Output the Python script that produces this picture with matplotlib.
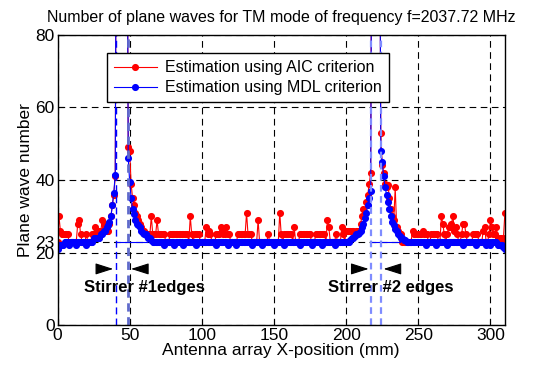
import numpy as np
import matplotlib
matplotlib.use('Agg')
import matplotlib.pyplot as plt

plt.rcParams['font.family'] = ['Liberation Sans', 'DejaVu Sans']

# antenna positions (mm), 1 mm step
x_pos = np.arange(0, 311)

# number of plane waves, AIC criterion (values > 80 are off the top of the plot)
aic = [
    23, 30, 26, 25, 25, 25, 25, 25, 23, 23,
    23, 23, 23, 23, 28, 29, 25, 23, 23, 23,
    25, 23, 23, 23, 25, 25, 27, 25, 25, 26,
    26, 29, 28, 27, 26, 26, 28, 30, 33, 36,
    41, 150, 150, 150, 150, 150, 150, 150, 150, 49,
    48, 39, 35, 33, 31, 30, 29, 28, 27, 26,
    26, 25, 25, 25, 25, 30, 25, 25, 25, 29,
    25, 25, 25, 25, 25, 23, 23, 23, 25, 25,
    25, 25, 25, 25, 25, 25, 25, 25, 25, 25,
    25, 23, 30, 25, 23, 25, 25, 25, 25, 23,
    23, 23, 23, 27, 25, 26, 25, 23, 23, 23,
    25, 25, 25, 27, 26, 25, 25, 27, 25, 25,
    23, 23, 23, 23, 23, 25, 25, 25, 25, 25,
    25, 31, 25, 25, 25, 23, 23, 23, 23, 29,
    23, 23, 23, 23, 23, 23, 25, 23, 23, 23,
    23, 23, 23, 23, 31, 25, 23, 25, 25, 25,
    25, 25, 25, 23, 27, 23, 23, 23, 25, 25,
    25, 25, 25, 25, 25, 25, 23, 23, 23, 25,
    25, 25, 25, 25, 25, 25, 23, 29, 27, 23,
    23, 23, 23, 25, 23, 23, 23, 27, 25, 23,
    26, 26, 26, 26, 26, 26, 25, 26, 26, 26,
    28, 30, 32, 31, 34, 36, 39, 42, 150, 150,
    150, 150, 150, 150, 53, 44, 42, 39, 38, 38.5,
    35, 32, 30, 29, 38, 27, 26, 25, 25, 23,
    23, 23, 23, 23, 23, 23, 26, 25, 25, 25,
    25, 25, 25, 26, 25, 25, 25, 23, 23, 25,
    25, 25, 25, 25, 23, 23, 30, 28, 25, 23,
    25, 27, 27, 28, 30, 26, 27, 25, 23, 23,
    25, 28, 28, 25, 23, 23, 23, 23, 25, 25,
    25, 25, 23, 23, 23, 26, 27, 23, 23, 25,
    29, 27, 25, 25, 27, 24, 24, 24, 23, 24,
    31,
]

# number of plane waves, MDL criterion
mdl = [
    21, 22, 22, 22, 22, 23, 23, 23, 22, 23,
    23, 23, 23, 22, 23, 23, 23, 23, 23, 23,
    22, 23, 23, 23, 23, 24, 24, 24, 24, 24,
    25, 25, 26, 26, 27, 27.5, 28.5, 30, 33, 36.5,
    41.5, 150, 150, 150, 150, 150, 150, 150, 150, 46,
    39.5, 35, 32, 30.5, 29, 28, 27.5, 27, 26, 25.5,
    25, 25, 24.5, 24, 24, 23.5, 23, 23, 23, 23,
    23, 23, 23, 23, 22, 23, 23, 23, 23, 23,
    23, 22, 23, 23, 23, 23, 23, 22, 23, 23,
    23, 23, 23, 23, 23, 23, 22, 23, 23, 23,
    23, 23, 23, 23, 23, 23, 23, 23, 23, 23,
    22, 23, 23, 23, 23, 23, 23, 23, 22, 23,
    23, 23, 23, 23, 22, 23, 23, 23, 23, 23,
    23, 23, 23, 23, 23, 22, 23, 23, 23, 23,
    23, 23, 22, 23, 23, 23, 23, 23, 23, 23,
    22, 23, 23, 23, 23, 23, 23, 22, 23, 23,
    23, 23, 23, 23, 23, 23, 23, 23, 22, 23,
    23, 23, 23, 23, 23, 23, 22, 23, 23, 23,
    23, 23, 23, 22, 23, 23, 23, 23, 23, 23,
    23, 23, 22, 23, 23, 23, 23, 23, 23, 23,
    23, 23, 23, 23.5, 24, 24, 24.5, 25, 25, 25.5,
    26, 27, 28, 29.5, 31, 33, 35, 37, 150, 150,
    150, 150, 150, 150, 48, 45, 41, 38, 36, 34,
    32, 30, 28.5, 27.5, 26.5, 26, 25, 24.5, 24, 24,
    23.5, 23.5, 23, 23, 23, 23, 23, 23, 23, 23,
    23, 23, 23, 23, 23, 22, 23, 23, 23, 23,
    23, 23, 22, 23, 23, 23, 23, 23, 23, 23,
    22, 23, 23, 23, 23, 23, 23, 23, 23, 23,
    23, 22, 23, 23, 23, 23, 23, 23, 23, 23,
    22, 23, 23, 23, 23, 23, 23, 22, 23, 23,
    22, 23, 23, 23, 23, 22, 22, 22, 22, 21.5,
    21,
]

# stirrer edge positions (mm) and the flat MDL level drawn across each stirrer
stirrer1_edges = [40.5, 49]
stirrer2_edges = [217.5, 224]
flat_level = 23
flat_spans = [(40.5, 62), (217.5, 237)]

xticks = [0, 50, 100, 150, 200, 250, 300]
yticks = [0, 20, 23, 40, 60, 80]

fig = plt.figure(figsize=(5.53, 3.67), dpi=100)
ax = fig.add_axes([0.104, 0.114, 0.809, 0.791])

ax.plot(x_pos, aic, '-', color='red', lw=0.8, marker='o', ms=4.1,
        mec='red', mfc='red', label='Estimation using AIC criterion')
ax.plot(x_pos, mdl, '-', color='blue', lw=0.8, marker='o', ms=4.1,
        mec='blue', mfc='blue', label='Estimation using MDL criterion')

for x0, x1 in flat_spans:
    ax.plot([x0, x1], [flat_level, flat_level], color='blue', lw=0.8)

ax.axvline(stirrer1_edges[0], color='blue', ls='--', lw=1.0, dashes=(5, 3))
ax.axvline(stirrer1_edges[1], color='#5f6acb', ls='--', lw=2.0, dashes=(3, 2))
for e in stirrer2_edges:
    ax.axvline(e, color='#7f8cff', ls='--', lw=1.6, dashes=(3, 2))

ax.set_xlim(0, 310)
ax.set_ylim(0, 80)
ax.set_xticks(xticks)
ax.set_yticks(yticks)
ax.grid(True, color='black', ls='--', lw=0.8, dashes=(6, 4))
ax.set_axisbelow(True)
ax.tick_params(direction='in', labelsize=12.5, length=4, pad=2)
for s in ax.spines.values():
    s.set_linewidth(1.0)

ax.set_title('Number of plane waves for TM mode of frequency f=2037.72 MHz',
             fontsize=11.5, pad=9)
ax.set_xlabel('Antenna array X-position (mm)', fontsize=12.5, labelpad=0)
ax.set_ylabel('Plane wave number', fontsize=12.5, labelpad=2)

leg = ax.legend(loc='upper left', bbox_to_anchor=(0.11, 0.937), fontsize=11.5,
                numpoints=1, handlelength=2.7, fancybox=False, framealpha=1,
                edgecolor='black', borderpad=0.45, labelspacing=0.3,
                handletextpad=0.5, borderaxespad=0)
leg.get_frame().set_linewidth(1.0)

arrow = dict(arrowstyle='-|>,head_length=1.1,head_width=0.35', color='black', lw=0.8)
ax.annotate('', xy=(stirrer1_edges[0], 15.5), xytext=(27.8, 15.5), arrowprops=arrow)
ax.annotate('', xy=(stirrer1_edges[1], 15.5), xytext=(64, 15.5), arrowprops=arrow)
ax.annotate('', xy=(stirrer2_edges[0], 15.5), xytext=(208, 15.5), arrowprops=arrow)
ax.annotate('', xy=(stirrer2_edges[1], 15.5), xytext=(233.5, 15.5), arrowprops=arrow)

ax.text(60.5, 10.5, 'Stirrer #1edges', fontsize=12, fontweight='bold',
        ha='center', va='center')
ax.text(231, 10.5, 'Stirrer #2 edges', fontsize=12, fontweight='bold',
        ha='center', va='center')

fig.savefig('out.png', dpi=100)
